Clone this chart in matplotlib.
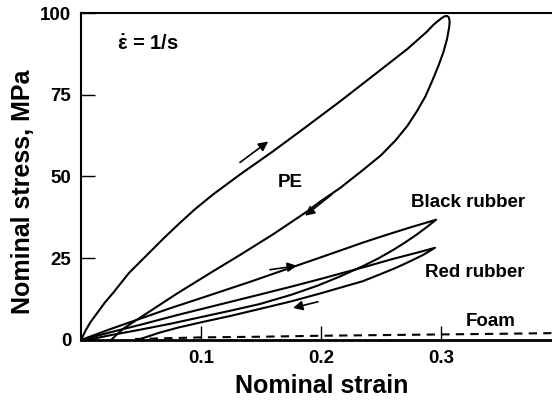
import matplotlib
matplotlib.use("Agg")
import matplotlib.pyplot as plt

plt.rcParams["font.family"] = ["Liberation Sans", "DejaVu Sans"]
plt.rcParams["font.weight"] = "bold"
plt.rcParams["mathtext.fontset"] = "custom"
plt.rcParams["mathtext.rm"] = "Liberation Sans:bold"
plt.rcParams["mathtext.it"] = "Liberation Sans:bold"
plt.rcParams["mathtext.bf"] = "Liberation Sans:bold"

# PE loop
pe_load_strain = [0, 0.004, 0.008, 0.013, 0.02, 0.027, 0.04, 0.055, 0.07, 0.083, 0.095, 0.11, 0.1325,
                  0.16, 0.188, 0.216, 0.243, 0.272, 0.288, 0.294, 0.3, 0.303, 0.305]
pe_load_stress = [0, 3, 5.5, 8, 11.5, 14.5, 20.5, 26, 31.5, 36, 40, 44.5, 50.6,
                  57.7, 65.3, 73, 80.7, 89, 94.2, 96.5, 98.3, 99, 99.1]
pe_unload_strain = [0.3065, 0.3072, 0.307, 0.3065, 0.305, 0.302, 0.298, 0.293, 0.287, 0.28, 0.272, 0.262,
                    0.25, 0.235, 0.216, 0.2, 0.188, 0.16, 0.1325, 0.11, 0.08, 0.05, 0.035, 0.025]
pe_unload_stress = [98.7, 97.5, 96.2, 95, 92, 88, 84, 79.5, 74.5, 70, 65.5, 61,
                    56.5, 52, 46.5, 42.5, 39.2, 32.3, 26, 21, 14.2, 7, 3.4, 0]

# black rubber loop
br_load_strain = [0, 0.025, 0.05, 0.075, 0.1, 0.141, 0.17, 0.2, 0.235, 0.255, 0.275, 0.288, 0.296]
br_load_stress = [0, 3.4, 6.6, 9.8, 12.8, 17.8, 21.5, 25.3, 29.8, 32.2, 34.5, 35.9, 36.8]
br_unload_strain = [0.296, 0.288, 0.28, 0.27, 0.26, 0.248, 0.235, 0.215, 0.197, 0.175, 0.149,
                    0.125, 0.1, 0.075, 0.05, 0.025, 0.005]
br_unload_stress = [36.8, 34.5, 32.3, 29.8, 27.5, 25, 22.6, 19.3, 16.6, 13.8, 11,
                    9, 7, 5, 3.2, 1.5, 0]

# red rubber loop
rr_load_strain = [0, 0.025, 0.05, 0.081, 0.115, 0.149, 0.175, 0.2, 0.235, 0.26, 0.28, 0.295]
rr_load_stress = [0, 2.4, 4.7, 7.7, 10.8, 13.9, 16.3, 18.7, 22.2, 24.8, 26.7, 28.2]
rr_unload_strain = [0.295, 0.285, 0.275, 0.262, 0.25, 0.235, 0.2, 0.175, 0.149, 0.125, 0.1, 0.081, 0.065, 0.047]
rr_unload_stress = [28.2, 26, 24.2, 22, 20.2, 18, 14.3, 11.8, 9.5, 7.4, 5.4, 3.8, 2.2, 0]

# foam
foam_strain = [0.045, 0.1, 0.15, 0.2, 0.25, 0.3, 0.35, 0.392]
foam_stress = [0.3, 0.8, 1.0, 1.3, 1.5, 1.7, 1.9, 2.1]

x_ticks = [0.1, 0.2, 0.3]
x_tick_labels = ["0.1", "0.2", "0.3"]
y_ticks = [0, 25, 50, 75, 100]

fig = plt.figure(figsize=(5.52, 4.05), dpi=100)
ax = fig.add_axes([0.1467, 0.1605, 0.8533, 0.8074])

lw = 1.5
ax.plot(pe_load_strain + pe_unload_strain, pe_load_stress + pe_unload_stress, color="black", lw=lw)
ax.plot(br_load_strain + br_unload_strain, br_load_stress + br_unload_stress, color="black", lw=lw)
ax.plot(rr_load_strain + rr_unload_strain, rr_load_stress + rr_unload_stress, color="black", lw=lw)
ax.plot(foam_strain, foam_stress, color="black", lw=lw, dashes=(4, 3))

arrows = [
    ((0.1325, 54.3), (0.156, 60.7)),
    ((0.209, 44.5), (0.1867, 38.0)),
    ((0.1575, 21.5), (0.180, 22.7)),
    ((0.1975, 11.7), (0.1767, 9.8)),
]
for tail, head in arrows:
    ax.annotate("", xy=head, xytext=tail,
                arrowprops=dict(arrowstyle="-|>", color="black", lw=1.2,
                                mutation_scale=14, shrinkA=0, shrinkB=0))

ax.text(0.056, 90.5, r"$\dot{\varepsilon}$ = 1/s", fontsize=14.5, fontweight="bold", ha="center", va="center")
ax.text(0.174, 48.2, "PE", fontsize=13.5, fontweight="bold", ha="center", va="center")
ax.text(0.3225, 42, "Black rubber", fontsize=13.5, fontweight="bold", ha="center", va="center")
ax.text(0.328, 20.5, "Red rubber", fontsize=13.5, fontweight="bold", ha="center", va="center")
ax.text(0.341, 5.8, "Foam", fontsize=13.5, fontweight="bold", ha="center", va="center")

ax.set_xlim(0, 0.3925)
ax.set_ylim(0, 100)
ax.set_xticks(x_ticks)
ax.set_xticklabels(x_tick_labels)
ax.set_yticks(y_ticks)
ax.tick_params(direction="in", length=10, width=1, labelsize=13.5, pad=7)
ax.spines["right"].set_visible(False)
ax.spines["bottom"].set_linewidth(2)
ax.spines["left"].set_linewidth(1.5)
ax.spines["top"].set_linewidth(1.5)

ax.set_xlabel("Nominal strain", fontsize=18, fontweight="bold")
ax.set_ylabel("Nominal stress, MPa", fontsize=18, fontweight="bold")
ax.xaxis.set_label_coords(0.51, -0.105)
ax.yaxis.set_label_coords(-0.097, 0.454)

fig.savefig("out.png", dpi=100)
